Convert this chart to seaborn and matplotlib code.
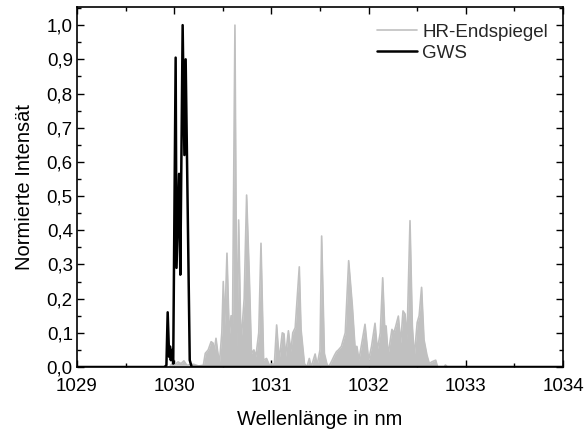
import pandas as pd
import matplotlib
matplotlib.use("Agg")
import matplotlib.pyplot as plt
import matplotlib.ticker as mticker
import seaborn as sns

sns.set_theme(style="ticks")
plt.rcParams['font.family'] = ['Liberation Sans', 'DejaVu Sans']

# HR-Endspiegel spectrum
hr_wl = [1029.0, 1029.95, 1029.98, 1030.0, 1030.04, 1030.07, 1030.1, 1030.13, 1030.2, 1030.25,
         1030.3, 1030.32, 1030.35, 1030.38, 1030.40, 1030.41, 1030.43, 1030.445, 1030.465, 1030.49,
         1030.505, 1030.52, 1030.543, 1030.567, 1030.585, 1030.60, 1030.625, 1030.645, 1030.663, 1030.687,
         1030.70, 1030.72, 1030.745, 1030.773, 1030.795, 1030.82, 1030.84, 1030.87, 1030.893, 1030.92,
         1030.95, 1030.98, 1031.01, 1031.03, 1031.054, 1031.08, 1031.112, 1031.13, 1031.145, 1031.175,
         1031.2, 1031.22, 1031.245, 1031.287, 1031.305, 1031.34, 1031.365, 1031.39, 1031.41, 1031.45,
         1031.47, 1031.50, 1031.517, 1031.545, 1031.57, 1031.59, 1031.625, 1031.65, 1031.67, 1031.69,
         1031.72, 1031.76, 1031.795, 1031.833, 1031.86, 1031.88, 1031.9, 1031.963, 1032.0, 1032.03,
         1032.066, 1032.09, 1032.12, 1032.145, 1032.165, 1032.18, 1032.2, 1032.24, 1032.26, 1032.28,
         1032.306, 1032.33, 1032.354, 1032.375, 1032.395, 1032.426, 1032.45, 1032.47, 1032.50, 1032.52,
         1032.545, 1032.57, 1032.6, 1032.625, 1032.65, 1032.69, 1032.71, 1032.78, 1032.79, 1032.81,
         1034.0]
hr_int = [0.0, 0.0, 0.01, 0.005, 0.015, 0.01, 0.018, 0.005, 0.008, 0.003,
          0.005, 0.04, 0.05, 0.074, 0.07, 0.04, 0.084, 0.05, 0.01, 0.10,
          0.25, 0.12, 0.333, 0.09, 0.15, 0.12, 1.0, 0.05, 0.43, 0.07,
          0.12, 0.2, 0.503, 0.264, 0.04, 0.05, 0.03, 0.1, 0.362, 0.02,
          0.025, 0.005, 0.01, 0.005, 0.123, 0.02, 0.10, 0.097, 0.03, 0.106,
          0.045, 0.10, 0.115, 0.293, 0.11, 0.01, 0.0, 0.025, 0.0, 0.038,
          0.005, 0.05, 0.383, 0.04, 0.01, 0.0, 0.02, 0.035, 0.045, 0.05,
          0.06, 0.1, 0.311, 0.178, 0.06, 0.06, 0.02, 0.125, 0.02, 0.06,
          0.128, 0.05, 0.1, 0.261, 0.12, 0.12, 0.035, 0.11, 0.10, 0.12,
          0.149, 0.07, 0.164, 0.155, 0.08, 0.428, 0.12, 0.03, 0.13, 0.15,
          0.233, 0.08, 0.035, 0.01, 0.015, 0.02, 0.0, 0.0, 0.006, 0.0,
          0.0]

# GWS spectrum
gws_wl = [1029.0, 1029.9, 1029.92, 1029.933, 1029.948, 1029.957, 1029.965, 1029.975, 1029.99, 1030.015,
          1030.024, 1030.05, 1030.063, 1030.087, 1030.105, 1030.118, 1030.16, 1030.18, 1034.0]
gws_int = [0.0, 0.0, 0.005, 0.16, 0.03, 0.06, 0.02, 0.05, 0.01, 0.905,
           0.29, 0.565, 0.27, 1.0, 0.62, 0.9, 0.02, 0.0, 0.0]

hr = pd.DataFrame({'wl': hr_wl, 'I': hr_int})
gws = pd.DataFrame({'wl': gws_wl, 'I': gws_int})

gray = '#c0c0c0'
fig = plt.figure(figsize=(5.85, 4.3), dpi=100)
ax = fig.add_axes([0.1316, 0.1465, 0.8308, 0.8372])

ax.fill_between(hr['wl'], hr['I'], 0, color=gray, lw=0)
sns.lineplot(data=hr, x='wl', y='I', color=gray, lw=1.2, label='HR-Endspiegel', ax=ax)
sns.lineplot(data=gws, x='wl', y='I', color='black', lw=1.8, label='GWS', ax=ax)

ax.set_xlim(1029, 1034)
ax.set_ylim(0, 1.053)
ax.xaxis.set_major_locator(mticker.MultipleLocator(1))
ax.xaxis.set_minor_locator(mticker.MultipleLocator(0.5))
ax.yaxis.set_major_locator(mticker.MultipleLocator(0.1))
ax.yaxis.set_minor_locator(mticker.MultipleLocator(0.05))
ax.yaxis.set_major_formatter(mticker.FuncFormatter(lambda v, p: f'{v:.1f}'.replace('.', ',')))
ax.xaxis.set_major_formatter(mticker.FuncFormatter(lambda v, p: f'{v:.0f}'))

ax.tick_params(which='both', direction='in', top=True, right=True, color='black',
               labelsize=13.5, labelcolor='black', width=1)
ax.tick_params(which='major', length=5)
ax.tick_params(which='minor', length=3)
ax.tick_params(axis='x', which='major', pad=8)
ax.tick_params(axis='y', which='major', pad=3)
for s in ax.spines.values():
    s.set_color('black')
    s.set_linewidth(1.2)

ax.set_xlabel('Wellenlänge in nm', fontsize=14.5, color='black', labelpad=11)
ax.set_ylabel('Normierte Intensät', fontsize=14.5, color='black', labelpad=9)

ax.legend(loc='upper right', bbox_to_anchor=(0.985, 0.975), borderaxespad=0,
          frameon=False, fontsize=13.5, handlelength=2.15,
          handletextpad=0.3, labelspacing=0.2)

fig.savefig('out.png', dpi=100)
